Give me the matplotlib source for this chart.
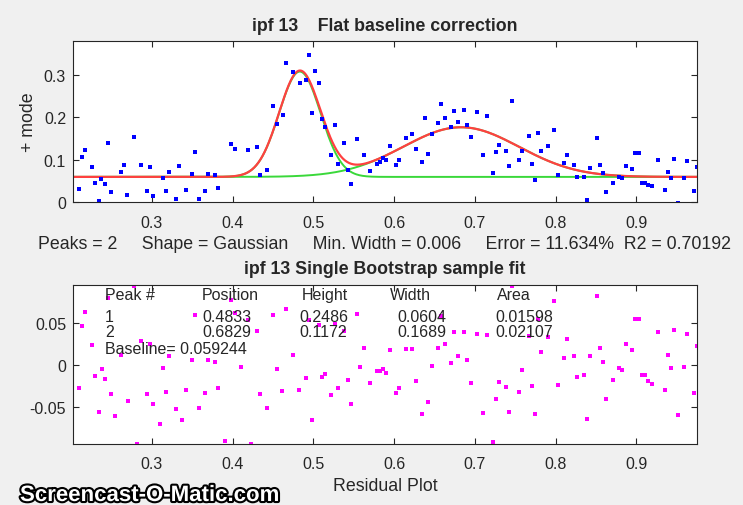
import matplotlib
matplotlib.use('Agg')
import matplotlib.pyplot as plt
import matplotlib.patheffects as pe
from matplotlib import font_manager
import numpy as np

plt.rcParams['font.family'] = ['Liberation Sans', 'DejaVu Sans']

# data points (top panel)
x_data = [0.2017, 0.2099, 0.2141, 0.2178, 0.2260, 0.2302, 0.2343, 0.2377, 0.2418, 0.2459,
          0.2501, 0.2616, 0.2657, 0.2699, 0.2781, 0.2864, 0.2942, 0.2979, 0.3016, 0.3140,
          0.3182, 0.3219, 0.3301, 0.3338, 0.3421, 0.3499, 0.3541, 0.3582, 0.3661, 0.3702,
          0.3784, 0.3822, 0.3983, 0.4025, 0.4186, 0.4305, 0.4342, 0.4425, 0.4503, 0.4545,
          0.4623, 0.4665, 0.4747, 0.4830, 0.4904, 0.4941, 0.4983, 0.5024, 0.5066, 0.5103,
          0.5140, 0.5222, 0.5264, 0.5301, 0.5383, 0.5425, 0.5462, 0.5544, 0.5623, 0.5701,
          0.5784, 0.5821, 0.5862, 0.5903, 0.5945, 0.6024, 0.6061, 0.6144, 0.6226, 0.6268,
          0.6346, 0.6383, 0.6424, 0.6466, 0.6544, 0.6585, 0.6627, 0.6705, 0.6746, 0.6788,
          0.6866, 0.6907, 0.6949, 0.7027, 0.7105, 0.7147, 0.7222, 0.7263, 0.7304, 0.7387,
          0.7428, 0.7465, 0.7544, 0.7585, 0.7668, 0.7709, 0.7746, 0.7787, 0.7824, 0.7907,
          0.7985, 0.8027, 0.8105, 0.8146, 0.8229, 0.8266, 0.8349, 0.8390, 0.8428, 0.8506,
          0.8548, 0.8585, 0.8626, 0.8704, 0.8787, 0.8824, 0.8865, 0.8944, 0.8985, 0.9026,
          0.9068, 0.9105, 0.9146, 0.9187, 0.9266, 0.9348, 0.9386, 0.9427, 0.9468, 0.9510,
          0.9588, 0.9629, 0.9708, 0.9750]
y_data = [0.073, 0.031, 0.106, 0.123, 0.083, 0.045, 0.002, 0.055, 0.042, 0.140,
          0.023, 0.071, 0.087, 0.017, 0.153, 0.087, 0.025, 0.083, 0.013, 0.056,
          0.027, 0.071, 0.006, 0.085, 0.029, 0.066, 0.118, 0.008, 0.025, 0.066,
          0.063, 0.032, 0.137, 0.124, 0.123, 0.129, 0.063, 0.076, 0.227, 0.184,
          0.206, 0.329, 0.307, 0.282, 0.288, 0.347, 0.209, 0.310, 0.282, 0.196,
          0.176, 0.111, 0.181, 0.090, 0.140, 0.075, 0.043, 0.149, 0.111, 0.073,
          0.090, 0.095, 0.103, 0.100, 0.132, 0.087, 0.098, 0.152, 0.160, 0.126,
          0.094, 0.198, 0.114, 0.160, 0.187, 0.231, 0.198, 0.177, 0.215, 0.188,
          0.216, 0.181, 0.153, 0.212, 0.111, 0.202, 0.068, 0.117, 0.134, 0.120,
          0.086, 0.238, 0.098, 0.121, 0.155, 0.090, 0.052, 0.164, 0.120, 0.132,
          0.169, 0.063, 0.092, 0.112, 0.087, 0.060, 0.059, 0.005, 0.080, 0.150,
          0.087, 0.068, 0.023, 0.044, 0.059, 0.056, 0.086, 0.078, 0.116, 0.116,
          0.046, 0.046, 0.040, 0.037, 0.099, 0.029, 0.071, 0.056, 0.102, -0.002,
          0.057, 0.096, 0.025, 0.083]

# residuals (bottom panel)
x_res = [0.2017, 0.2099, 0.2141, 0.2178, 0.2260, 0.2302, 0.2343, 0.2381, 0.2422, 0.2463,
         0.2501, 0.2542, 0.2620, 0.2703, 0.2781, 0.2822, 0.2864, 0.2942, 0.2984, 0.3021,
         0.3099, 0.3140, 0.3182, 0.3219, 0.3301, 0.3380, 0.3421, 0.3499, 0.3541, 0.3582,
         0.3661, 0.3702, 0.3784, 0.3822, 0.3904, 0.3983, 0.4025, 0.4103, 0.4186, 0.4227,
         0.4305, 0.4342, 0.4425, 0.4503, 0.4545, 0.4607, 0.4665, 0.4743, 0.4822, 0.4904,
         0.4941, 0.4983, 0.5066, 0.5103, 0.5144, 0.5222, 0.5264, 0.5301, 0.5383, 0.5425,
         0.5462, 0.5544, 0.5582, 0.5623, 0.5701, 0.5784, 0.5821, 0.5862, 0.5903, 0.5945,
         0.6024, 0.6065, 0.6144, 0.6226, 0.6268, 0.6346, 0.6424, 0.6466, 0.6544, 0.6585,
         0.6627, 0.6705, 0.6746, 0.6788, 0.6866, 0.6907, 0.6949, 0.7027, 0.7105, 0.7147,
         0.7222, 0.7263, 0.7304, 0.7387, 0.7428, 0.7465, 0.7544, 0.7585, 0.7668, 0.7709,
         0.7746, 0.7787, 0.7824, 0.7907, 0.7985, 0.8027, 0.8105, 0.8146, 0.8229, 0.8266,
         0.8349, 0.8390, 0.8428, 0.8506, 0.8548, 0.8585, 0.8626, 0.8704, 0.8787, 0.8824,
         0.8865, 0.8944, 0.8985, 0.9026, 0.9068, 0.9105, 0.9146, 0.9187, 0.9266, 0.9348,
         0.9386, 0.9427, 0.9468, 0.9510, 0.9588, 0.9629, 0.9708, 0.9750]
y_res = [0.0143, -0.0278, 0.0464, 0.0639, 0.0242, -0.0131, -0.0556, -0.0040, -0.0163, 0.0806,
         -0.0349, -0.0603, 0.0123, -0.0425, 0.0944, -0.0935, 0.0286, -0.0345, 0.0250, -0.0460,
         -0.0702, -0.0032, -0.0317, 0.0115, -0.0524, -0.0651, -0.0302, 0.0063, 0.0595, -0.0508,
         -0.0333, 0.0063, 0.0036, -0.0274, -0.0901, 0.0774, 0.0627, -0.0016, 0.0540, -0.0935,
         0.0409, -0.0341, -0.0508, 0.0603, -0.0040, -0.0306, 0.0675, 0.0127, -0.0294, -0.0151,
         0.0540, -0.0655, 0.0480, -0.0143, -0.0107, -0.0361, 0.0488, -0.0274, 0.0409, -0.0175,
         -0.0468, 0.0611, -0.0016, 0.0206, -0.0210, -0.0075, -0.0071, -0.0040, -0.0091, 0.0183,
         -0.0333, -0.0274, 0.0198, 0.0190, -0.0187, -0.0579, -0.0440, -0.0008, 0.0206, 0.0587,
         0.0254, 0.0028, 0.0397, 0.0115, 0.0397, 0.0060, -0.0214, 0.0377, -0.0575, 0.0365,
         -0.0920, -0.0405, -0.0198, -0.0266, -0.0563, 0.0940, -0.0317, -0.0052, 0.0349, -0.0250,
         -0.0583, 0.0548, 0.0159, 0.0333, 0.0766, -0.0234, 0.0087, 0.0310, 0.0111, -0.0147,
         -0.0123, -0.0643, 0.0107, 0.0829, 0.0210, 0.0032, -0.0401, -0.0179, -0.0032, -0.0052,
         0.0254, 0.0175, 0.0556, 0.0548, -0.0123, -0.0123, -0.0187, -0.0222, 0.0397, -0.0302,
         0.0127, -0.0028, 0.0421, -0.0591, -0.0016, 0.0377, -0.0337, 0.0230]

# fit results shown in the table
peak_no = ['1', '2']
positions = [0.4833, 0.6829]
heights = [0.2486, 0.1172]
widths = [0.0604, 0.1689]
areas = [0.01598, 0.02107]
baseline = 0.059244

xlim = (0.2025, 0.975)

fig = plt.figure(figsize=(7.43, 5.06), dpi=100, facecolor='#f0f0f0')
W, H = 743, 506
ax1 = fig.add_axes([73 / W, 1 - 203 / H, 624 / W, 161 / H])
ax2 = fig.add_axes([73 / W, 1 - 445 / H, 624 / W, 159 / H])

dark = '#262626'
for ax in (ax1, ax2):
    ax.set_facecolor('white')
    for s in ax.spines.values():
        s.set_color(dark)
        s.set_linewidth(0.8)
    ax.tick_params(direction='in', top=True, right=True, length=4, width=0.8,
                   colors=dark, labelsize=11.5)
    ax.tick_params(axis='x', pad=9)
    ax.tick_params(axis='y', pad=5)
    ax.set_xlim(xlim)
    ax.set_xticks([0.3, 0.4, 0.5, 0.6, 0.7, 0.8, 0.9])
    ax.set_xticklabels(['0.3', '0.4', '0.5', '0.6', '0.7', '0.8', '0.9'])

# top: data + fit
xf = np.linspace(xlim[0], xlim[1], 600)
comps = [h * np.exp(-((xf - p) / (0.60056 * w)) ** 2) for p, h, w in zip(positions, heights, widths)]
for c in comps:
    ax1.plot(xf, c + baseline, color='#3ad83a', lw=1.4)
ax1.plot(xf, sum(comps) + baseline, color='#ff4040', lw=1.6)
ax1.plot(x_data, y_data, 's', color='blue', ms=2.6, mew=0)
ax1.set_ylim(0, 0.38)
ax1.set_yticks([0, 0.1, 0.2, 0.3])
ax1.set_yticklabels(['0', '0.1', '0.2', '0.3'])
ax1.set_ylabel('+ mode', fontsize=12.8, color=dark, labelpad=5)
ax1.set_title('ipf 13    Flat baseline correction', fontsize=12.8, fontweight='bold',
              color=dark, pad=8)
ax1.set_xlabel('Peaks = 2     Shape = Gaussian     Min. Width = 0.006     Error = 11.634%  R2 = 0.70192',
               fontsize=12.8, color=dark, labelpad=4)

# bottom: residuals
ax2.plot(x_res, y_res, 's', color='magenta', ms=2.6, mew=0)
ax2.set_ylim(-0.094, 0.0956)
ax2.set_yticks([-0.05, 0, 0.05])
ax2.set_yticklabels(['-0.05', '0', '0.05'])
ax2.set_title('ipf 13 Single Bootstrap sample fit', fontsize=12.8, fontweight='bold',
              color=dark, pad=9)
ax2.set_xlabel('Residual Plot', fontsize=12.8, color=dark, labelpad=4)

# results table inside the residual plot
tk = dict(transform=ax2.transAxes, fontsize=11.5, color=dark, va='center')
hdr = ['Peak #', 'Position', 'Height', 'Width', 'Area']
hdr_x = [0.0513, 0.206, 0.366, 0.5075, 0.6795]
val_x = [0.0513, 0.207, 0.363, 0.520, 0.677]
for s, xx in zip(hdr, hdr_x):
    ax2.text(xx, 0.9415, s, **tk)
for i, yy in enumerate([0.805, 0.706]):
    row = [peak_no[i], '%.4f' % positions[i], '%.4f' % heights[i], '%.4f' % widths[i], '%.5f' % areas[i]]
    for s, xx in zip(row, val_x):
        ax2.text(xx, yy, s, **tk)
ax2.text(0.0513, 0.599, 'Baseline= %.6f' % baseline, **tk)

# watermark
names = {f.name for f in font_manager.fontManager.ttflist}
if 'Liberation Sans Narrow' in names:
    wm_fam, wm_fs = ['Liberation Sans Narrow'], 19.5
else:
    wm_fam, wm_fs = ['Liberation Sans', 'DejaVu Sans'], 16
fig.text(20 / W, 1 - 502 / H, 'Screencast-O-Matic.com', family=wm_fam, fontsize=wm_fs,
         fontweight='bold', color='white', va='baseline', ha='left',
         path_effects=[pe.withStroke(linewidth=3, foreground='black')])

fig.savefig('out.png', dpi=100, facecolor=fig.get_facecolor())
